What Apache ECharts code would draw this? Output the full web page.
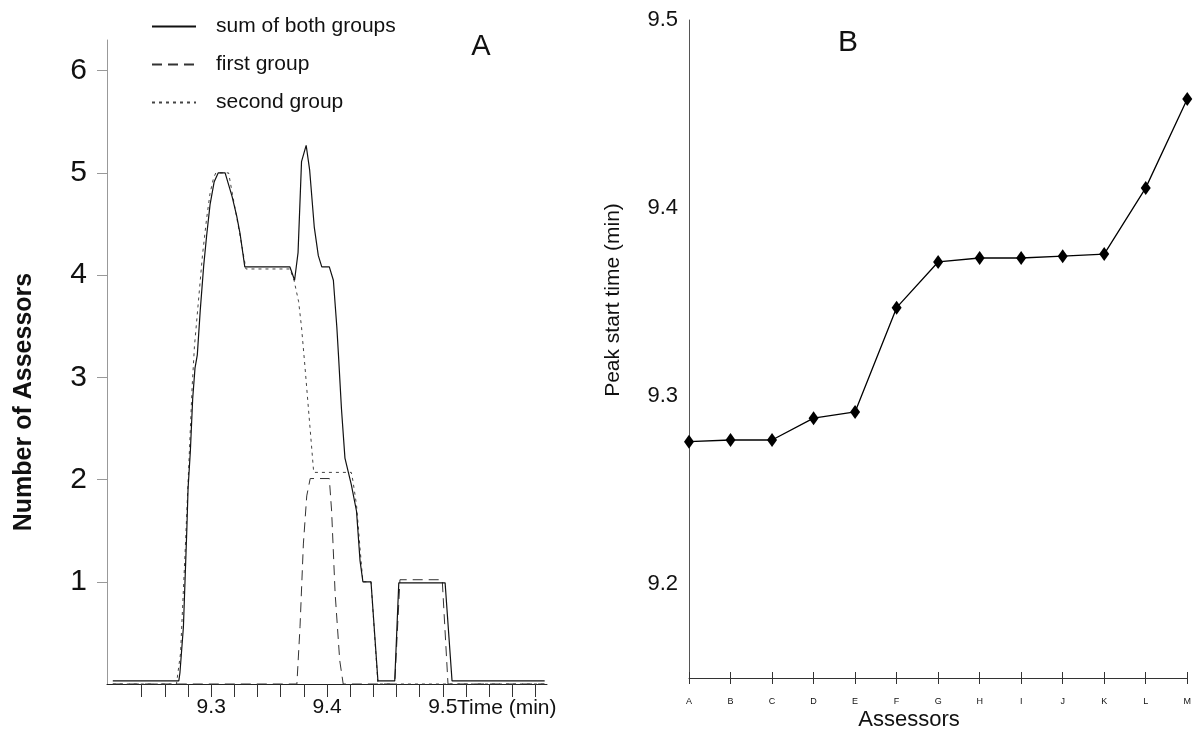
<!DOCTYPE html>
<html>
<head>
<meta charset="utf-8">
<script src="https://cdn.jsdelivr.net/npm/echarts@6/dist/echarts.min.js"></script>
<style>
html,body{margin:0;padding:0;background:#fff;}
#chart{width:1194px;height:729px;}
</style>
</head>
<body>
<div id="chart"></div>
<script>
// panel A : number of assessors over time (min)
var sumBoth = [[9.215,0.03],[9.272,0.03],[9.273,0.11],[9.276,0.56],[9.279,1.53],[9.280,1.91],[9.282,2.28],[9.284,2.79],[9.286,3.09],[9.288,3.22],[9.2905,3.65],[9.2935,4.09],[9.296,4.38],[9.299,4.69],[9.3025,4.91],[9.306,5.0],[9.312,5.0],[9.318,4.77],[9.322,4.58],[9.325,4.4],[9.329,4.08],[9.368,4.08],[9.372,3.95],[9.375,4.22],[9.378,5.11],[9.382,5.27],[9.385,5.03],[9.389,4.47],[9.3925,4.19],[9.3955,4.08],[9.402,4.08],[9.4055,3.95],[9.4085,3.49],[9.41,3.2],[9.4125,2.69],[9.4155,2.21],[9.421,1.95],[9.4255,1.69],[9.4285,1.21],[9.431,1.0],[9.438,1.0],[9.444,0.03],[9.4585,0.03],[9.462,0.99],[9.502,0.99],[9.508,0.03],[9.588,0.03]];
var firstGroup = [[9.215,0],[9.374,0],[9.3767,0.56],[9.3796,1.37],[9.3825,1.84],[9.3855,2.01],[9.402,2.01],[9.404,1.69],[9.407,0.89],[9.411,0.23],[9.414,0],[9.4585,0],[9.463,1.02],[9.4995,1.02],[9.5045,0],[9.588,0]];
var secondGroup = [[9.215,0],[9.27,0],[9.2735,0.3],[9.2775,1.3],[9.2805,2.1],[9.2835,2.9],[9.2855,3.3],[9.289,3.75],[9.2925,4.2],[9.296,4.55],[9.299,4.8],[9.302,4.95],[9.304,5.0],[9.315,5.0],[9.3195,4.72],[9.325,4.38],[9.33,4.06],[9.368,4.06],[9.3715,3.95],[9.3755,3.74],[9.378,3.49],[9.381,3.1],[9.384,2.69],[9.387,2.28],[9.3885,2.07],[9.421,2.07],[9.4225,1.98],[9.4255,1.75],[9.4285,1.33],[9.431,1.0],[9.438,1.0],[9.444,0],[9.588,0]];
var timeTicks = [9.24,9.26,9.28,9.30,9.32,9.34,9.36,9.38,9.40,9.42,9.44,9.46,9.48,9.50,9.52,9.54,9.56,9.58];
var timeLabels = [9.3,9.4,9.5];
var countTicks = [1,2,3,4,5,6];

// panel B : peak start time per assessor
var assessors = ['A','B','C','D','E','F','G','H','I','J','K','L','M'];
var peakStart = [9.2757,9.2766,9.2766,9.2882,9.2915,9.347,9.3713,9.3734,9.3734,9.3744,9.3755,9.4107,9.458];
var peakTicks = [9.2,9.25,9.3,9.35,9.4,9.45,9.5];
var peakLabels = [9.2,9.3,9.4,9.5];

var font = "'Liberation Sans', Arial, sans-serif";
var myChart = echarts.init(document.getElementById('chart'));

myChart.setOption({
    animation: false,
    backgroundColor: '#fff',
    textStyle: {fontFamily: font, color: '#111'},
    legend: {
        left: 146, top: 11, orient: 'vertical',
        itemWidth: 44, itemHeight: 14, itemGap: 17,
        itemStyle: {opacity: 0, color: 'transparent', borderWidth: 0},
        textStyle: {fontSize: 21, color: '#111', fontFamily: font, padding: [0, 0, 0, 15]},
        data: ['sum of both groups', 'first group', 'second group']
    },
    grid: [
        {left: 107, top: 40, width: 440, height: 644},
        {left: 689, top: 20, width: 504, height: 658}
    ],
    xAxis: [
        {
            type: 'value', gridIndex: 0, min: 9.21, max: 9.59, position: 'bottom',
            axisLine: {lineStyle: {color: '#222', width: 1}},
            axisTick: {customValues: timeTicks, length: 13, lineStyle: {color: '#333'}},
            axisLabel: {customValues: timeLabels, fontSize: 21, margin: 13, color: '#111',
                formatter: function (v) { return v.toFixed(1); }},
            splitLine: {show: false}
        },
        {
            type: 'category', gridIndex: 1, data: assessors, boundaryGap: false, position: 'bottom',
            axisLine: {lineStyle: {color: '#333', width: 1}},
            axisTick: {length: 6, lineStyle: {color: '#333'}},
            axisLabel: {fontSize: 9, margin: 19, color: '#111'}
        },
        {
            type: 'category', gridIndex: 1, data: assessors, boundaryGap: false, position: 'bottom',
            axisLine: {show: false},
            axisTick: {inside: true, length: 6, lineStyle: {color: '#333'}},
            axisLabel: {show: false}
        }
    ],
    yAxis: [
        {
            type: 'value', gridIndex: 0, min: 0, max: 6.3, position: 'left',
            axisLine: {show: true, lineStyle: {color: '#999', width: 1}},
            axisTick: {customValues: countTicks, length: 10, lineStyle: {color: '#999'}},
            axisLabel: {customValues: countTicks, fontSize: 30, margin: 20, color: '#111'},
            splitLine: {show: false}
        },
        {
            type: 'value', gridIndex: 1, min: 9.15, max: 9.5, position: 'left',
            axisLine: {show: true, lineStyle: {color: '#555', width: 1}},
            axisTick: {customValues: peakTicks, length: 5, lineStyle: {color: '#444'}},
            axisLabel: {customValues: peakLabels, fontSize: 22, margin: 11, color: '#111',
                formatter: function (v) { return v.toFixed(1); }},
            splitLine: {show: false}
        },
        {
            type: 'value', gridIndex: 1, min: 9.15, max: 9.5, position: 'left',
            axisLine: {show: false},
            axisTick: {customValues: peakTicks, inside: true, length: 5, lineStyle: {color: '#444'}},
            axisLabel: {show: false},
            splitLine: {show: false}
        }
    ],
    graphic: [
        {type: 'text', x: 481, y: 47, style: {text: 'A', fontSize: 29, fontFamily: font, fill: '#111', align: 'center', verticalAlign: 'middle'}},
        {type: 'text', x: 848, y: 43, style: {text: 'B', fontSize: 30, fontFamily: font, fill: '#111', align: 'center', verticalAlign: 'middle'}},
        {type: 'text', x: 457, y: 708, style: {text: 'Time (min)', fontSize: 21, fontFamily: font, fill: '#111', align: 'left', verticalAlign: 'middle'}},
        {type: 'text', x: 909, y: 720, style: {text: 'Assessors', fontSize: 22, fontFamily: font, fill: '#111', align: 'center', verticalAlign: 'middle'}},
        {type: 'text', x: 24, y: 402, rotation: Math.PI / 2, style: {text: 'Number of Assessors', fontSize: 25, fontWeight: 'bold', fontFamily: font, fill: '#111', align: 'center', verticalAlign: 'middle'}},
        {type: 'text', x: 613, y: 300, rotation: Math.PI / 2, style: {text: 'Peak start time (min)', fontSize: 21, fontFamily: font, fill: '#111', align: 'center', verticalAlign: 'middle'}}
    ],
    series: [
        {
            name: 'sum of both groups', type: 'line', xAxisIndex: 0, yAxisIndex: 0,
            data: sumBoth, symbol: 'none', z: 4,
            lineStyle: {color: '#111', width: 1.2}, itemStyle: {color: '#111'}
        },
        {
            name: 'first group', type: 'line', xAxisIndex: 0, yAxisIndex: 0,
            data: firstGroup, symbol: 'none', z: 3,
            lineStyle: {color: '#333', width: 1, type: [10, 6]}, itemStyle: {color: '#333'}
        },
        {
            name: 'second group', type: 'line', xAxisIndex: 0, yAxisIndex: 0,
            data: secondGroup, symbol: 'none', z: 3,
            lineStyle: {color: '#444', width: 1, type: [3, 4]}, itemStyle: {color: '#444'}
        },
        {
            name: 'peak start', type: 'line', xAxisIndex: 1, yAxisIndex: 1,
            data: peakStart, symbol: 'diamond', symbolSize: [10, 14], z: 4,
            lineStyle: {color: '#000', width: 1.3}, itemStyle: {color: '#000'}
        }
    ]
});
</script>
</body>
</html>
